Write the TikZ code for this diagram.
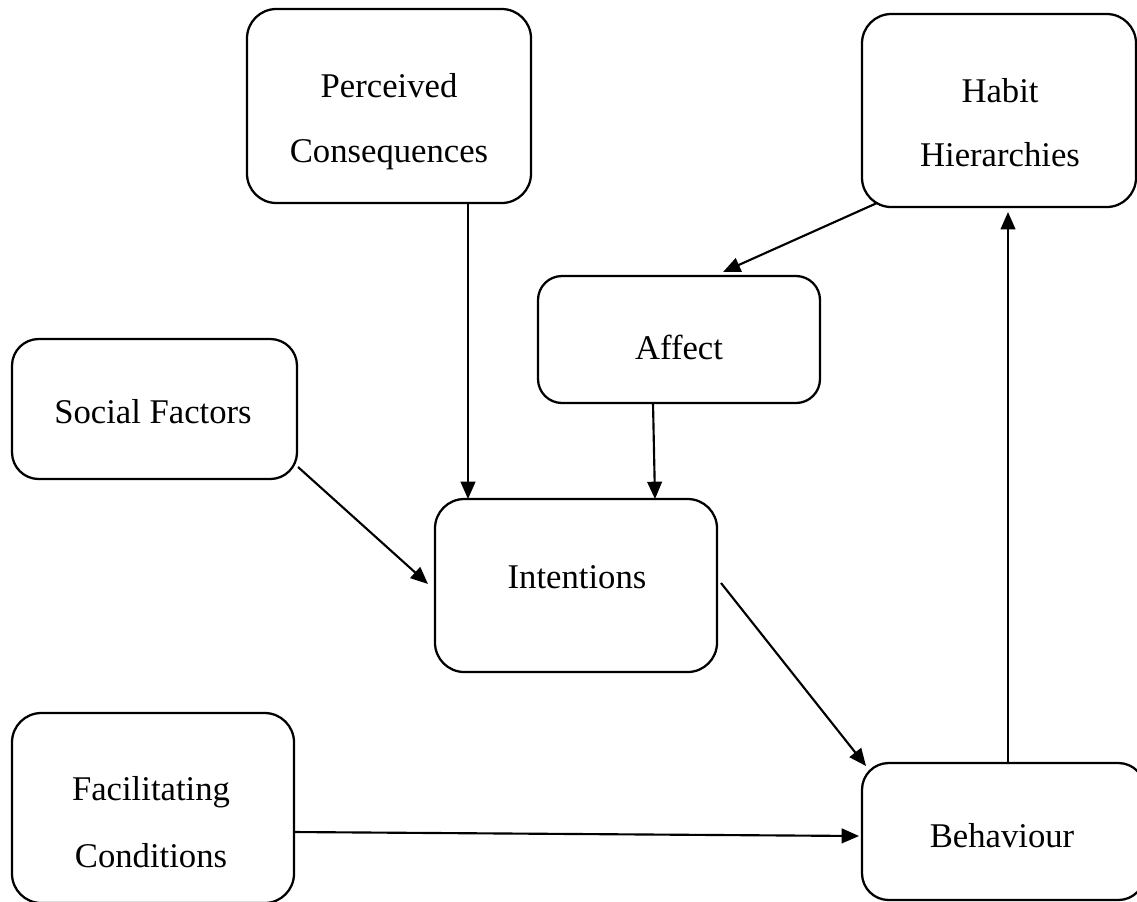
\documentclass[tikz,border=0pt]{standalone}
\usepackage{fontspec}
\setmainfont{Liberation Serif}
\usetikzlibrary{arrows.meta,calc}

\begin{document}
\begin{tikzpicture}[x=0.75pt,y=-0.75pt,
  box/.style={draw,line width=1.7pt,rounded corners=22pt,inner sep=0pt,outer sep=0pt},
  lbl/.style={anchor=base,inner sep=0pt,font=\fontsize{26}{31}\selectfont},
  arr/.style={line width=1.6pt,-{Triangle[length=13pt,width=11pt]}}]
  \useasboundingbox (0,0) rectangle (1137,901);

  % boxes
  \node[box,minimum width=213pt,minimum height=145.5pt] (pc) at (389,106) {};
  \node[box,minimum width=205.5pt,minimum height=144.75pt] (hh) at (999,110.5) {};
  \node[box,minimum width=211.5pt,minimum height=95.25pt,rounded corners=18pt] (af) at (679,339.5) {};
  \node[box,minimum width=213.75pt,minimum height=105pt,rounded corners=20pt] (sf) at (154.5,409) {};
  \node[box,minimum width=211.5pt,minimum height=129.75pt] (int) at (576,585.5) {};
  \node[box,minimum width=211.5pt,minimum height=142.5pt] (fc) at (153,808) {};
  \node[box,minimum width=212.25pt,minimum height=102.75pt,rounded corners=20pt] (bh) at (1003.5,831.5) {};

  % labels
  \node[lbl] (pc1) at (389,97) {Perceived};
  \node[lbl] (pc2) at (389,162) {Consequences};
  \node[lbl] (hh1) at (1000,102) {Habit};
  \node[lbl] (hh2) at (1000,166) {Hierarchies};
  \node[lbl] (af1) at (679,359) {Affect};
  \node[lbl] (sf1) at (153,423) {Social Factors};
  \node[lbl] (int1) at (577,588) {Intentions};
  \node[lbl] (fc1) at (151,800) {Facilitating};
  \node[lbl] (fc2) at (151,867) {Conditions};
  \node[lbl] (bh1) at (1002,847) {Behaviour};

  % connectors
  \draw[arr] (pc.south -| 468,0) -- (int.north -| 468,0);
  \draw[arr] (af.south -| 653,0) -- (int.north -| 655,0);
  \draw[arr] ($(hh.south west)+(15,-4)$) -- ($(af.north west)+(185,-4)$);
  \draw[arr] ($(sf.south east)+(1,-12)$) -- ($(int.west)+(-7,-1.5)$);
  \draw[arr] ($(int.east)+(4,-2.5)$) -- ($(bh.north west)+(4,3)$);
  \draw[arr] ($(fc.east)+(0,24)$) -- ($(bh.west)+(-3,4.5)$);
  \draw[arr] (bh.north -| 1008,0) -- ($(hh.south -| 1008,0)+(0,5)$);
\end{tikzpicture}
\end{document}
